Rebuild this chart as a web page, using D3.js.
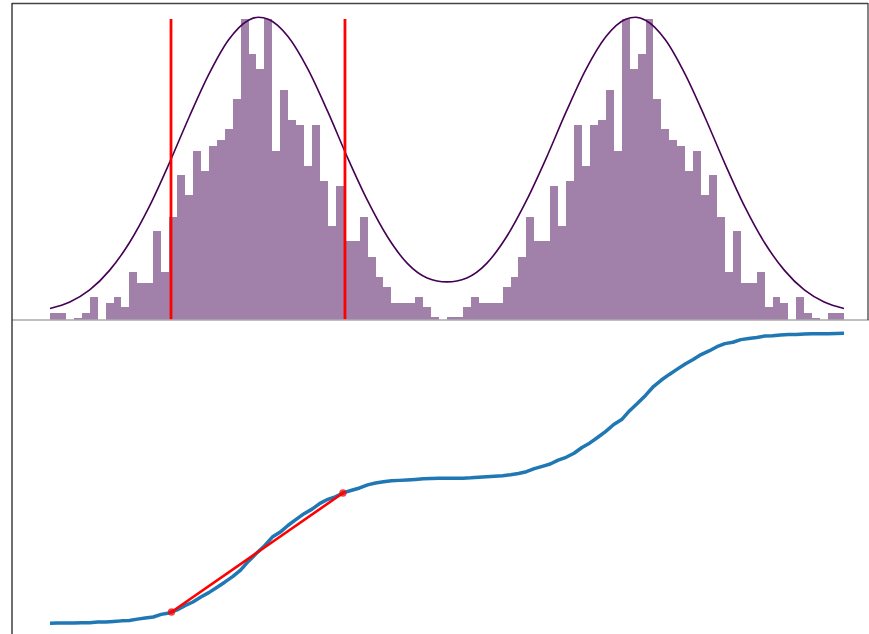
<!doctype html>
<html>
<head>
  <meta charset="utf-8" />
  <title>Histogram and CDF</title>
  <script src="https://cdn.jsdelivr.net/npm/d3@7"></script>
  <style>
    body { margin: 0; background: #fff; }
    svg { display: block; }
  </style>
</head>
<body>
  <svg id="chart"></svg>
  <script>
    // histogram counts, 100 bins
    var binCounts = [
      1.3, 1.3, 0, 0.3, 1.3, 4.5, 0, 3.3, 4.4, 2.4,
      9.4, 7.3, 7.3, 17.6, 9.4, 20.5, 28.8, 24.8, 33.7, 29.7,
      34.7, 35.8, 37.9, 43.9, 60, 53, 50, 60, 33.7, 45.8,
      39.8, 38.7, 30.7, 38.7, 27.6, 18.6, 26.6, 15.7, 15.7, 20.5,
      12.5, 8.5, 6.4, 3.3, 3.3, 3.3, 4.4, 2.4, 0.4, 0,
      0.4, 0.4, 2.4, 4.4, 3.3, 3.3, 3.3, 6.4, 8.5, 12.5,
      20.5, 15.7, 15.7, 26.6, 18.6, 27.6, 38.7, 30.7, 38.7, 39.8,
      45.8, 33.7, 60, 50, 53, 60, 43.9, 37.9, 35.8, 34.7,
      29.7, 33.7, 24.8, 28.8, 20.5, 9.4, 17.6, 7.3, 7.3, 9.4,
      2.4, 4.4, 3.3, 0, 4.5, 1.3, 0.3, 0, 1.3, 1.3
    ];

    // density curve drawn over the histogram
    var curveX = [0, 2.5, 5, 7.5, 10, 12.5, 15, 17.5, 20, 22.5, 25, 26.25, 27.5, 30, 32.5, 35, 37.5, 40, 42.5, 45, 47.5, 50,
      52.5, 55, 57.5, 60, 62.5, 65, 67.5, 70, 72.5, 73.75, 75, 77.5, 80, 82.5, 85, 87.5, 90, 92.5, 95, 97.5, 100];
    var curveY = [2.2, 3.5, 5.9, 9.8, 15.3, 22.5, 31.1, 40.3, 48.9, 55.8, 59.7, 60.3, 59.9, 56.4, 49.9, 41.4, 32.2, 23.7, 16.5, 11.2, 8.3, 7.5,
      8.3, 11.2, 16.5, 23.7, 32.2, 41.4, 49.9, 56.4, 59.9, 60.3, 59.7, 55.8, 48.9, 40.3, 31.1, 22.5, 15.3, 9.8, 5.9, 3.5, 2.2];

    // vertical cut lines and the chord on the cdf
    var cutX = [15.24, 37.15];
    var chordX = [15.3, 36.9];

    var width = 869,
      height = 634;

    var svg = d3.select("#chart")
      .attr("width", width)
      .attr("height", height);

    var x = d3.scaleLinear().domain([0, 100]).range([50, 844]);
    var y = d3.scaleLinear().domain([0, 60]).range([319.5, 18.7]);
    var yc = d3.scaleLinear().domain([0, 1]).range([623.3, 333.3]);

    // bars
    svg.append("g")
      .attr("shape-rendering", "crispEdges")
      .selectAll("rect")
      .data(binCounts)
      .enter()
      .append("rect")
      .attr("x", function(d, i) { return x(i); })
      .attr("width", function(d, i) { return x(i + 1) - x(i); })
      .attr("y", function(d) { return y(d); })
      .attr("height", function(d) { return y(0) - y(d); })
      .attr("fill", "#a180a9");

    // curve
    var line = d3.line()
      .x(function(d) { return x(d[0]); })
      .y(function(d) { return y(d[1]); })
      .curve(d3.curveMonotoneX);

    svg.append("path")
      .datum(d3.zip(curveX, curveY))
      .attr("d", line)
      .attr("fill", "none")
      .attr("stroke", "#440154")
      .attr("stroke-width", 1.6);

    // red cut lines
    svg.selectAll(".cut")
      .data(cutX)
      .enter()
      .append("line")
      .attr("class", "cut")
      .attr("x1", function(d) { return x(d); })
      .attr("x2", function(d) { return x(d); })
      .attr("y1", 19)
      .attr("y2", y(0))
      .attr("stroke", "#ff0000")
      .attr("stroke-width", 2.8);

    // cdf from the histogram
    var total = d3.sum(binCounts);
    var cum = [0].concat(Array.from(d3.cumsum(binCounts)));
    var edges = d3.range(binCounts.length + 1);
    var cdf = edges.map(function(e, i) { return [e, cum[i] / total]; });
    var cdfAt = d3.scaleLinear().domain(edges).range(cdf.map(function(d) { return d[1]; }));

    svg.append("path")
      .datum(cdf)
      .attr("d", d3.line()
        .x(function(d) { return x(d[0]); })
        .y(function(d) { return yc(d[1]); }))
      .attr("fill", "none")
      .attr("stroke", "#1f77b4")
      .attr("stroke-width", 3.5)
      .attr("stroke-linejoin", "round");

    var chord = chordX.map(function(d) { return [d, cdfAt(d)]; });

    svg.append("path")
      .datum(chord)
      .attr("d", d3.line()
        .x(function(d) { return x(d[0]); })
        .y(function(d) { return yc(d[1]); }))
      .attr("fill", "none")
      .attr("stroke", "#ff0000")
      .attr("stroke-width", 2.6);

    svg.selectAll(".dot")
      .data(chord)
      .enter()
      .append("circle")
      .attr("class", "dot")
      .attr("cx", function(d) { return x(d[0]); })
      .attr("cy", function(d) { return yc(d[1]); })
      .attr("r", 3.7)
      .attr("fill", "#ff0000")
      .attr("fill-opacity", 0.75);

    // frame
    svg.append("line")
      .attr("x1", 12).attr("x2", 869).attr("y1", 320).attr("y2", 320)
      .attr("stroke", "#aaaaaa").attr("stroke-width", 1.5);
    svg.append("line")
      .attr("x1", 12).attr("x2", 868).attr("y1", 3.5).attr("y2", 3.5)
      .attr("stroke", "#444").attr("stroke-width", 1.3);
    svg.append("line")
      .attr("x1", 868).attr("x2", 868).attr("y1", 3).attr("y2", 320)
      .attr("stroke", "#444").attr("stroke-width", 1.3);
    svg.append("line")
      .attr("x1", 12).attr("x2", 12).attr("y1", 3).attr("y2", height)
      .attr("stroke", "#222").attr("stroke-width", 1.3);
  </script>
</body>
</html>
